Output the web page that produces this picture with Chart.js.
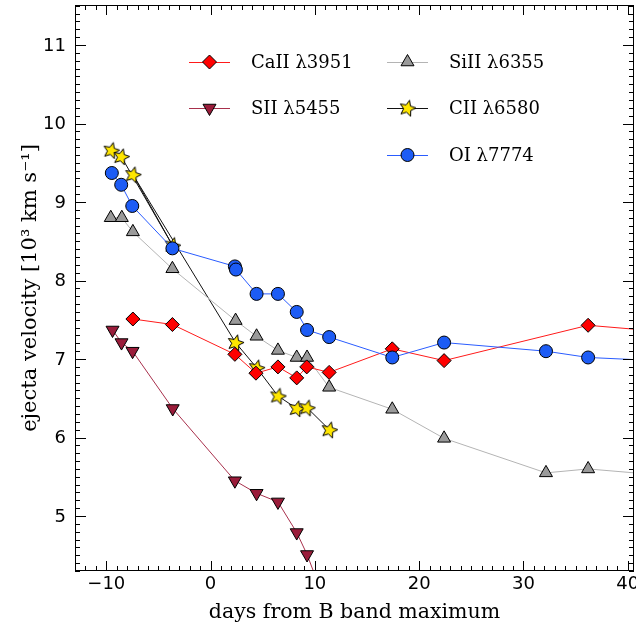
<!DOCTYPE html>
<html>
<head>
<meta charset="utf-8">
<script src="https://cdn.jsdelivr.net/npm/chart.js@4.4.1/dist/chart.umd.min.js"></script>
<style>
  html, body { margin: 0; padding: 0; background: #fff; }
</style>
</head>
<body>
<canvas id="velChart" width="636" height="631"></canvas>
<script>
// days from B maximum and velocities (10^3 km/s)
const caDays = [-7.45, -3.66, 2.33, 4.35, 6.46, 8.26, 9.22, 11.37, 17.42, 22.39, 36.2, 46];
const caVel = [7.51, 7.44, 7.06, 6.82, 6.90, 6.76, 6.90, 6.83, 7.13, 6.98, 7.43, 7.32];

const sDays = [-9.40, -8.54, -7.48, -3.63, 2.33, 4.41, 6.46, 8.26, 9.25, 11.4];
const sVel = [7.37, 7.21, 7.10, 6.37, 5.45, 5.29, 5.18, 4.79, 4.51, 3.76];

const siDays = [-9.57, -8.51, -7.45, -3.66, 2.40, 4.41, 6.46, 8.26, 9.25, 11.37, 17.42, 22.39, 32.16, 36.2, 46];
const siVel = [8.80, 8.80, 8.62, 8.15, 7.49, 7.29, 7.11, 7.02, 7.02, 6.64, 6.36, 5.99, 5.55, 5.60, 5.49];

// kept in the plotted order (the -3.7 d point comes before the -7.5 d one)
const cDays = [-9.53, -8.57, -3.66, -7.45, 2.39, 4.41, 6.46, 8.26, 9.25, 11.39];
const cVel = [9.66, 9.58, 8.45, 9.35, 7.21, 6.89, 6.53, 6.37, 6.38, 6.10];

const oDays = [-9.47, -8.57, -7.51, -3.66, 2.33, 2.43, 4.41, 6.46, 8.26, 9.25, 11.37, 17.42, 22.39, 32.16, 36.2, 46];
const oVel = [9.37, 9.22, 8.95, 8.41, 8.18, 8.14, 7.83, 7.83, 7.60, 7.37, 7.28, 7.02, 7.21, 7.10, 7.02, 6.96];

const xTickValues = [-10, 0, 10, 20, 30, 40];
const yTickValues = [5, 6, 7, 8, 9, 10, 11];

const toPoints = (xs, ys) => xs.map((d, i) => ({ x: d, y: ys[i] }));

// filled five point star used as a point style
function makeStar(size) {
  const c = document.createElement("canvas");
  c.width = size;
  c.height = size;
  const g = c.getContext("2d");
  const cx = size / 2, cy = size / 2 + 0.5;
  const R = size / 2 - 1, r = R * 0.45;
  g.beginPath();
  for (let i = 0; i < 10; i++) {
    const a = -Math.PI / 2 + 0.25 + (i * Math.PI) / 5;
    const rr = i % 2 ? r : R;
    g.lineTo(cx + rr * Math.cos(a), cy + rr * Math.sin(a));
  }
  g.closePath();
  g.fillStyle = "#ffe600";
  g.fill();
  g.lineWidth = 1;
  g.strokeStyle = "#000";
  g.stroke();
  return c;
}
const starImg = makeStar(19);

const series = [
  { label: "CaII \u03bb3951", days: caDays, vel: caVel, line: "#ff1a1a", fill: "#ff0000", style: "rectRot", radius: 7, rotation: 0, order: 2 },
  { label: "SII \u03bb5455", days: sDays, vel: sVel, line: "#a8304c", fill: "#9a1c3a", style: "triangle", radius: 7.5, rotation: 180, order: 5 },
  { label: "SiII \u03bb6355", days: siDays, vel: siVel, line: "#b4b4b4", fill: "#9a9a9a", style: "triangle", radius: 7.5, rotation: 0, order: 3 },
  { label: "CII \u03bb6580", days: cDays, vel: cVel, line: "#111111", fill: "#ffe600", style: starImg, radius: 9, rotation: 0, order: 4 },
  { label: "OI \u03bb7774", days: oDays, vel: oVel, line: "#2a5cff", fill: "#1d5cf5", style: "circle", radius: 6.5, rotation: 0, order: 1 },
];

function drawShape(ctx, s, x, y) {
  const r = s.radius;
  if (s.style === "circle") {
    ctx.arc(x, y, r, 0, Math.PI * 2);
  } else if (s.style === "rectRot") {
    ctx.moveTo(x, y - r); ctx.lineTo(x + r, y); ctx.lineTo(x, y + r); ctx.lineTo(x - r, y); ctx.closePath();
  } else if (s.style === "triangle") {
    const k = s.rotation === 180 ? -1 : 1;
    ctx.moveTo(x, y - k * r);
    ctx.lineTo(x + 0.866 * r, y + k * 0.5 * r);
    ctx.lineTo(x - 0.866 * r, y + k * 0.5 * r);
    ctx.closePath();
  }
}

// legend drawn inside the frame, two columns like the original
const legendPlugin = {
  id: "boxLegend",
  afterDraw(chart) {
    const ctx = chart.ctx;
    const spots = [
      [0, 189, 62], [1, 189, 108], [2, 387, 62], [3, 387, 108], [4, 387, 155],
    ];
    ctx.save();
    ctx.font = '18px "DejaVu Serif"';
    ctx.textBaseline = "middle";
    for (const [i, lx, ly] of spots) {
      const s = series[i];
      ctx.strokeStyle = s.line;
      ctx.lineWidth = 1;
      ctx.beginPath();
      ctx.moveTo(lx, ly + 0.5);
      ctx.lineTo(lx + 41, ly + 0.5);
      ctx.stroke();
      if (typeof s.style === "string") {
        ctx.fillStyle = s.fill;
        ctx.strokeStyle = "#000";
        ctx.beginPath();
        drawShape(ctx, s, lx + 20.5, ly);
        ctx.fill();
        ctx.stroke();
      } else {
        ctx.drawImage(s.style, lx + 20.5 - s.style.width / 2, ly - s.style.height / 2);
      }
      ctx.fillStyle = "#000";
      ctx.fillText(s.label, lx + 62, ly + 1);
    }
    ctx.restore();
  },
};

// frame with inward major/minor ticks on all four sides, plus tick labels
const framePlugin = {
  id: "frameTicks",
  afterDatasetsDraw(chart) {
    const { ctx, chartArea: a, scales } = chart;
    const x = scales.x, y = scales.y;
    ctx.save();
    ctx.strokeStyle = "#000";
    ctx.lineWidth = 1;
    ctx.strokeRect(a.left + 0.5, a.top + 0.5, a.right - a.left - 1, a.bottom - a.top - 1);
    ctx.beginPath();
    for (let d = Math.ceil(x.min); d <= Math.floor(x.max); d++) {
      const px = Math.round(x.getPixelForValue(d)) + 0.5;
      const len = d % 10 === 0 ? 10 : 5;
      ctx.moveTo(px, a.bottom); ctx.lineTo(px, a.bottom - len);
      ctx.moveTo(px, a.top); ctx.lineTo(px, a.top + len);
    }
    for (let i = Math.ceil(y.min * 10); i <= Math.floor(y.max * 10); i++) {
      const py = Math.round(y.getPixelForValue(i / 10)) + 0.5;
      const len = i % 10 === 0 ? 11 : 5;
      ctx.moveTo(a.left, py); ctx.lineTo(a.left + len, py);
      ctx.moveTo(a.right, py); ctx.lineTo(a.right - len, py);
    }
    ctx.stroke();

    ctx.fillStyle = "#000";
    ctx.font = '18px "DejaVu Sans"';
    ctx.textAlign = "center";
    ctx.textBaseline = "middle";
    for (const v of xTickValues) {
      const label = v < 0 ? "\u2212" + Math.abs(v) : String(v);
      ctx.fillText(label, x.getPixelForValue(v), a.bottom + 13);
    }
    ctx.textAlign = "right";
    for (const v of yTickValues) {
      ctx.fillText(String(v), a.left - 9, y.getPixelForValue(v) + 1);
    }
    ctx.restore();
  },
};

const chart1 = document.getElementById("velChart");
new Chart(chart1, {
  type: "line",
  data: {
    datasets: series.map((s) => ({
      label: s.label,
      data: toPoints(s.days, s.vel),
      borderColor: s.line,
      borderWidth: 1,
      backgroundColor: s.fill,
      pointStyle: s.style,
      pointRadius: s.radius,
      pointRotation: s.rotation,
      pointBackgroundColor: s.fill,
      pointBorderColor: "#000",
      pointBorderWidth: 1,
      tension: 0,
      fill: false,
      order: s.order,
    })),
  },
  options: {
    responsive: false,
    animation: false,
    devicePixelRatio: 1,
    layout: { autoPadding: false, padding: { top: 5, right: 2, left: 0, bottom: 0 } },
    plugins: {
      legend: { display: false },
      tooltip: { enabled: false },
    },
    scales: {
      x: {
        type: "linear",
        min: -13,
        max: 40.6,
        grid: { display: false, drawTicks: false },
        border: { display: false },
        ticks: { display: false },
        afterFit: (scale) => { scale.height = 60; },
        title: {
          display: true,
          text: "days from B band maximum",
          color: "#000",
          font: { family: "DejaVu Serif", size: 20.5 },
          padding: { top: 0, bottom: 6 },
        },
      },
      y: {
        type: "linear",
        min: 4.3,
        max: 11.51,
        grid: { display: false, drawTicks: false },
        border: { display: false },
        ticks: { display: false },
        afterFit: (scale) => { scale.width = 75; },
        title: {
          display: true,
          text: "ejecta velocity [10\u00b3 km s\u207b\u00b9]",
          color: "#000",
          font: { family: "DejaVu Serif", size: 21 },
          padding: { top: 18, bottom: 0 },
        },
      },
    },
  },
  plugins: [framePlugin, legendPlugin],
});
</script>
</body>
</html>
